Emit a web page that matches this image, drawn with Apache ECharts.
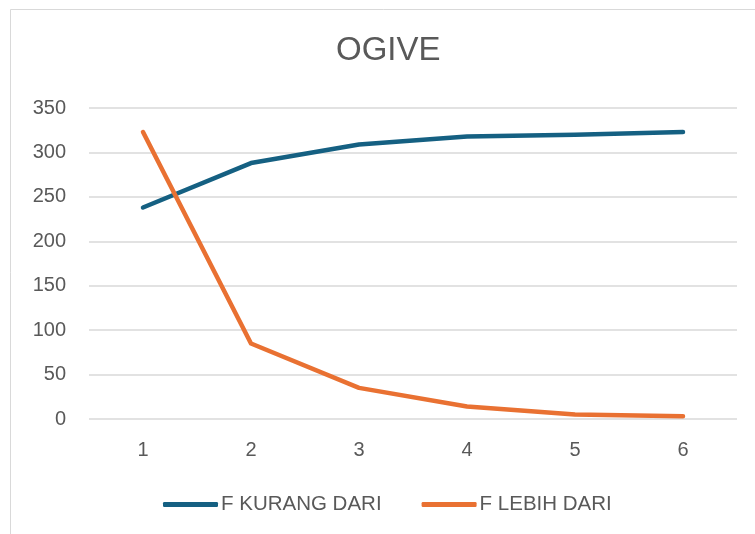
<!DOCTYPE html>
<html>
<head>
<meta charset="utf-8">
<script src="https://cdn.jsdelivr.net/npm/echarts@6/dist/echarts.min.js"></script>
<style>
  html, body { margin: 0; padding: 0; background: #fff; }
  #chart { width: 755px; height: 534px; }
</style>
</head>
<body>
<div id="chart"></div>
<script>
// data
const categories = ['1', '2', '3', '4', '5', '6'];
const kurangDari = [238, 288, 309, 318, 320, 323];
const lebihDari = [323, 85, 35, 14, 5, 3];
const yTicks = { min: 0, max: 350, interval: 50 };

const FONT = '"Liberation Sans", Arial, sans-serif';
const TXT = '#595959';

const chart = echarts.init(document.getElementById('chart'), null, { renderer: 'canvas' });

chart.setOption({
  animation: false,
  backgroundColor: '#fff',
  title: {
    text: 'OGIVE',
    left: 336,
    top: 34,
    padding: 0,
    textStyle: { fontFamily: FONT, fontSize: 33, fontWeight: 'normal', color: TXT }
  },
  // Excel chart area border
  graphic: [{
    type: 'rect',
    shape: { x: 10.5, y: 9.5, width: 800, height: 600 },
    style: { fill: 'none', stroke: '#d9d9d9', lineWidth: 1 },
    silent: true
  }],
  legend: {
    top: 489,
    left: 158,
    itemWidth: 55,
    itemHeight: 5,
    itemGap: 40,
    icon: 'roundRect',
    textStyle: { fontFamily: FONT, fontSize: 20.5, color: TXT, padding: [0, 0, 0, -2] },
    data: ['F KURANG DARI', 'F LEBIH DARI']
  },
  grid: { left: 89, right: 18, top: 108, bottom: 115 },
  xAxis: {
    type: 'category',
    data: categories,
    boundaryGap: true,
    axisLine: { show: false },
    axisTick: { show: false },
    axisLabel: { fontFamily: FONT, fontSize: 20, color: TXT, margin: 21 }
  },
  yAxis: {
    type: 'value',
    min: yTicks.min,
    max: yTicks.max,
    interval: yTicks.interval,
    axisLine: { show: false },
    axisTick: { show: false },
    axisLabel: { fontFamily: FONT, fontSize: 20, color: TXT, margin: 23 },
    splitLine: { lineStyle: { color: '#d9d9d9', width: 1.5 } }
  },
  series: [
    {
      name: 'F KURANG DARI',
      type: 'line',
      data: kurangDari,
      symbol: 'none',
      color: '#156082',
      lineStyle: { width: 4.5, cap: 'round', join: 'round' }
    },
    {
      name: 'F LEBIH DARI',
      type: 'line',
      data: lebihDari,
      symbol: 'none',
      color: '#E97132',
      lineStyle: { width: 4.5, cap: 'round', join: 'round' }
    }
  ]
});
</script>
</body>
</html>
